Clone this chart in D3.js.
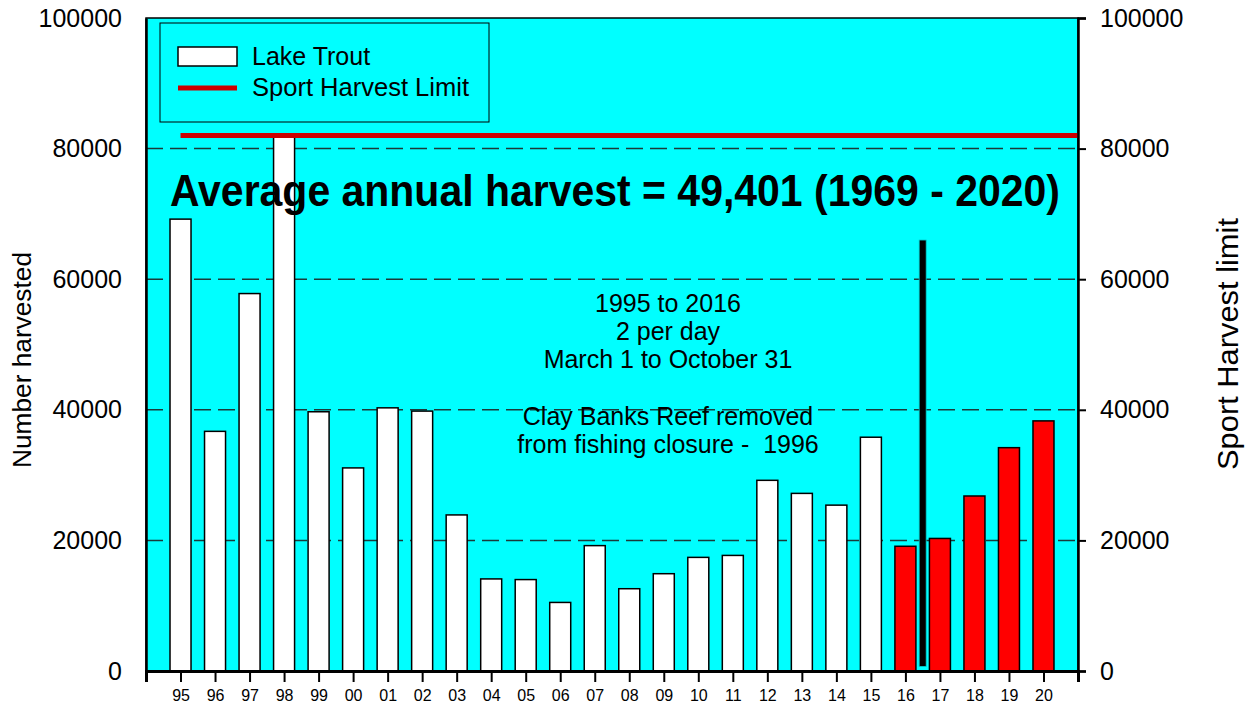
<!DOCTYPE html>
<html>
<head>
<meta charset="utf-8">
<script src="https://cdn.jsdelivr.net/npm/d3@7"></script>
<style>
  body { margin: 0; background: #fff; }
  svg { display: block; font-family: "Liberation Sans", Arial, sans-serif; }
</style>
</head>
<body>
<div id="chart"></div>
<script>
// year labels along the bottom (1995 - 2020)
var years = ["95","96","97","98","99","00","01","02","03","04","05","06","07","08","09",
             "10","11","12","13","14","15","16","17","18","19","20"];
// lake trout harvest per year
var harvest = [69200, 36700, 57800, 81800, 39700, 31100, 40300, 39800, 23900, 14100, 14000, 10500, 19200,
               12600, 14900, 17400, 17700, 29200, 27200, 25400, 35800, 19100, 20300, 26800, 34200, 38300];
// years after the regulation change are drawn red
var redYears = ["16","17","18","19","20"];
// sport harvest limit line
var limitValue = 82000;
// black divider between 2016 and 2017
var dividerPos = 21.5, dividerTop = 66000, dividerBottom = 700;

var yTicks = [0, 20000, 40000, 60000, 80000, 100000];
var gridVals = [20000, 40000, 60000, 80000];
var notes1 = ["1995 to 2016", "2 per day", "March 1 to October 31"];
var notes2 = ["Clay Banks Reef removed", "from fishing closure -  1996"];

var W = 1250, H = 707;
var pLeft = 146, pRight = 1078, pTop = 18, pBottom = 671;

var svg = d3.select("#chart").append("svg").attr("width", W).attr("height", H);

var x = d3.scaleLinear().domain([-1, years.length]).range([pLeft, pRight]);
var y = d3.scaleLinear().domain([0, 100000]).range([pBottom, pTop]);
var barW = 21;

//plot background
svg.append("rect")
  .attr("x", pLeft).attr("y", pTop)
  .attr("width", pRight-pLeft).attr("height", pBottom-pTop)
  .attr("fill", "#00ffff")
  .attr("stroke", "#000").attr("stroke-width", 1.5);

//dashed grid lines
svg.append("g").selectAll("line")
  .data(gridVals).enter().append("line")
  .attr("x1", pLeft).attr("x2", pRight)
  .attr("y1", function(d){ return y(d); })
  .attr("y2", function(d){ return y(d); })
  .attr("stroke", "#1a3a3a").attr("stroke-width", 1.5)
  .attr("stroke-dasharray", "17,7");

//bars
var data = years.map(function(yr, i){ return {yr: yr, i: i, val: harvest[i]}; });
svg.append("g").selectAll("rect")
  .data(data).enter().append("rect")
  .attr("x", function(d){ return x(d.i) - barW/2; })
  .attr("y", function(d){ return y(d.val); })
  .attr("width", barW)
  .attr("height", function(d){ return y(0) - y(d.val); })
  .attr("fill", function(d){ return redYears.indexOf(d.yr) >= 0 ? "#ff0000" : "#ffffff"; })
  .attr("stroke", "#000").attr("stroke-width", 1.5);

//divider
svg.append("rect")
  .attr("x", x(dividerPos) - 3.5).attr("y", y(dividerTop))
  .attr("width", 7).attr("height", y(dividerBottom) - y(dividerTop))
  .attr("fill", "#000").attr("stroke", "#00cccc").attr("stroke-width", 0.8);

//sport harvest limit
svg.append("line")
  .attr("x1", x(0)).attr("x2", x(years.length))
  .attr("y1", y(limitValue)).attr("y2", y(limitValue))
  .attr("stroke", "#cc0000").attr("stroke-width", 5);

//axes
var yAxisL = d3.axisLeft(y).tickValues(yTicks).tickSize(0).tickPadding(24).tickFormat(d3.format("d"));
var gl = svg.append("g").attr("transform", "translate(" + pLeft + ",0)").call(yAxisL);
var yAxisR = d3.axisRight(y).tickValues(yTicks).tickSize(8).tickPadding(14).tickFormat(d3.format("d"));
var gr = svg.append("g").attr("transform", "translate(" + pRight + ",0)").call(yAxisR);
[gl, gr].forEach(function(g){
  g.select(".domain").attr("stroke", "#000").attr("stroke-width", 2.5);
  g.selectAll(".tick line").attr("stroke", "#000").attr("stroke-width", 2);
  g.selectAll("text").attr("font-size", 25).attr("fill", "#000")
    .attr("font-family", "'Liberation Sans', Arial, sans-serif");
});

var xTickVals = d3.range(0, years.length + 1);
var xAxis = d3.axisBottom(x).tickValues(xTickVals).tickSize(11).tickPadding(8)
  .tickFormat(function(d){ return years[d] || ""; });
var gx = svg.append("g").attr("transform", "translate(0," + pBottom + ")").call(xAxis);
gx.select(".domain").attr("stroke", "#000").attr("stroke-width", 3);
gx.selectAll(".tick line").attr("stroke", "#000").attr("stroke-width", 2);
gx.selectAll("text").attr("font-size", 16).attr("fill", "#000")
  .attr("font-family", "'Liberation Sans', Arial, sans-serif");

//axis titles
svg.append("text")
  .attr("transform", "translate(31,360) rotate(-90)")
  .attr("text-anchor", "middle").attr("font-size", 25)
  .attr("textLength", 216).attr("lengthAdjust", "spacingAndGlyphs")
  .text("Number harvested");
svg.append("text")
  .attr("transform", "translate(1238,344) rotate(-90)")
  .attr("text-anchor", "middle").attr("font-size", 29)
  .attr("textLength", 252).attr("lengthAdjust", "spacingAndGlyphs")
  .text("Sport Harvest limit");

//legend
var lg = svg.append("g");
lg.append("rect").attr("x", 160).attr("y", 23).attr("width", 329).attr("height", 99)
  .attr("fill", "none").attr("stroke", "#000").attr("stroke-width", 1);
lg.append("rect").attr("x", 178).attr("y", 47).attr("width", 59).attr("height", 19)
  .attr("fill", "#fff").attr("stroke", "#000").attr("stroke-width", 1.5);
lg.append("line").attr("x1", 178).attr("x2", 237).attr("y1", 88).attr("y2", 88)
  .attr("stroke", "#cc0000").attr("stroke-width", 5);
lg.append("text").attr("x", 252).attr("y", 65).attr("font-size", 25).text("Lake Trout");
lg.append("text").attr("x", 252).attr("y", 96).attr("font-size", 25)
  .attr("textLength", 217).attr("lengthAdjust", "spacingAndGlyphs")
  .text("Sport Harvest Limit");

//headline
svg.append("text")
  .attr("x", 170).attr("y", 206)
  .attr("font-size", 44).attr("font-weight", "bold")
  .attr("textLength", 890).attr("lengthAdjust", "spacingAndGlyphs")
  .text("Average annual harvest = 49,401 (1969 - 2020)");

//notes
svg.append("g").selectAll("text").data(notes1).enter().append("text")
  .attr("x", 668).attr("y", function(d, i){ return 312 + i*28; })
  .attr("text-anchor", "middle").attr("font-size", 25)
  .text(function(d){ return d; });
svg.append("g").selectAll("text").data(notes2).enter().append("text")
  .attr("x", 668).attr("y", function(d, i){ return 425 + i*28; })
  .attr("text-anchor", "middle").attr("font-size", 25)
  .style("white-space", "pre")
  .text(function(d){ return d; });
</script>
</body>
</html>
